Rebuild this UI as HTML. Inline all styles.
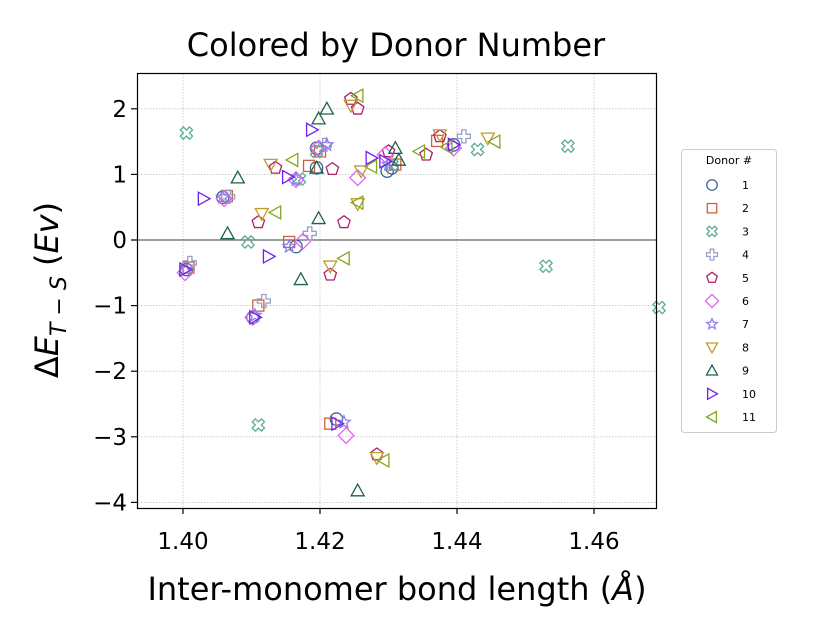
<!DOCTYPE html>
<html><head><meta charset="utf-8"><style>
html,body{margin:0;padding:0;background:#fff;}
svg{display:block;font-family:"DejaVu Sans","Liberation Sans",sans-serif;}
</style></head><body>
<svg id="chart" width="840" height="640" viewBox="0 0 840 640">
<text x="396" y="56" font-size="32" text-anchor="middle">Colored by Donor Number</text>
<g id="grid"></g>
<g id="axes"></g>
<g id="marks"></g>
<rect x="137.5" y="73.5" width="519" height="435" fill="none" stroke="#000" stroke-width="1.2"/>
<text x="397" y="600" font-size="32" text-anchor="middle">Inter-monomer bond length (<tspan font-style="italic">Å</tspan>)</text>
<text transform="translate(58,290) rotate(-90)" font-size="32" text-anchor="middle">Δ<tspan font-style="italic">E</tspan><tspan font-size="22" dy="8" font-style="italic">T − S</tspan><tspan dy="-8"> (</tspan><tspan font-style="italic">Ev</tspan>)</text>
<g id="legend">
<rect x="681.5" y="149.5" width="95" height="283" rx="3" fill="#fff" stroke="#ccc" stroke-width="1"/>
<text x="729" y="164" font-size="11" text-anchor="middle">Donor #</text>
</g>
</svg>
<script>
const xTicks = [1.40, 1.42, 1.44, 1.46];
const xTickLabels = ["1.40", "1.42", "1.44", "1.46"];
const yTicks = [2, 1, 0, -1, -2, -3, -4];
const yTickLabels = ["2", "1", "0", "−1", "−2", "−3", "−4"];
const seriesNames = ["1","2","3","4","5","6","7","8","9","10","11"];
const seriesColors = ["#3a6596","#d0603c","#5aae8a","#98a0c8","#b01f6a","#e064f2","#8a80f0","#c49a30","#1c6446","#7020f0","#80a822"];
const seriesMarkers = ["circle","square","x","plus","pentagon","diamond","star","down","up","right","left"];
const d1 = [[1.4005,-0.45],[1.4102,-1.18],[1.4224,-2.73],[1.4165,-0.1],[1.4195,1.4],[1.4058,0.65],[1.4298,1.05],[1.4195,1.1],[1.4395,1.45],[1.4305,1.1]];
const d2 = [[1.4008,-0.42],[1.411,-1.0],[1.4215,-2.8],[1.4155,-0.03],[1.42,1.35],[1.4064,0.67],[1.431,1.15],[1.4184,1.13],[1.4371,1.51]];
const d3 = [[1.4005,1.63],[1.4095,-0.03],[1.411,-2.82],[1.453,-0.4],[1.4562,1.43],[1.443,1.38],[1.417,0.93],[1.4195,1.35],[1.4305,1.15],[1.4695,-1.03]];
const d4 = [[1.401,-0.35],[1.4118,-0.93],[1.4185,0.1],[1.4207,1.45],[1.441,1.58],[1.4066,0.66]];
const d5 = [[1.4283,-3.27],[1.4215,-0.53],[1.4235,0.27],[1.411,0.27],[1.4135,1.1],[1.4218,1.08],[1.4255,2.0],[1.4355,1.3],[1.4375,1.58],[1.43,1.35],[1.4245,2.15]];
const d6 = [[1.4003,-0.5],[1.4102,-1.18],[1.4238,-2.98],[1.4175,-0.02],[1.4198,1.4],[1.406,0.63],[1.4165,0.92],[1.4295,1.3],[1.4395,1.4],[1.4255,0.95]];
const d7 = [[1.4005,-0.45],[1.4105,-1.15],[1.4235,-2.78],[1.4155,-0.1],[1.421,1.45],[1.4058,0.65],[1.4165,0.92],[1.43,1.15]];
const d8 = [[1.4283,-3.32],[1.4215,-0.4],[1.4255,0.55],[1.4115,0.4],[1.4128,1.15],[1.4245,2.05],[1.4375,1.6],[1.4445,1.55],[1.426,1.05]];
const d9 = [[1.4255,-3.82],[1.4172,-0.6],[1.4198,0.33],[1.4065,0.1],[1.408,0.95],[1.4195,1.1],[1.421,2.0],[1.4198,1.85],[1.431,1.4],[1.4315,1.22]];
const d10 = [[1.4003,-0.45],[1.4105,-1.18],[1.4225,-2.8],[1.4125,-0.25],[1.403,0.63],[1.4153,0.96],[1.4188,1.68],[1.4295,1.2],[1.4275,1.25],[1.4395,1.45]];
const d11 = [[1.4293,-3.36],[1.4235,-0.28],[1.4255,0.57],[1.4135,0.42],[1.416,1.22],[1.4255,2.2],[1.4275,1.12],[1.4345,1.35],[1.4455,1.5],[1.4385,1.42]];
const allSeries = [d1,d2,d3,d4,d5,d6,d7,d8,d9,d10,d11];

const NS = "http://www.w3.org/2000/svg";
function X(v){ return 183 + (v - 1.40) * 6850; }
function Y(v){ return 240 - v * 65.6; }
function mk(tag, attrs, parent){ const e = document.createElementNS(NS, tag); for (const k in attrs) e.setAttribute(k, attrs[k]); parent.appendChild(e); return e; }
const grid = document.getElementById('grid'), axes = document.getElementById('axes'), marks = document.getElementById('marks'), legend = document.getElementById('legend');

xTicks.forEach((t,i)=>{
  const x = X(t);
  const g = mk('line',{x1:x,x2:x,y1:74,y2:508,stroke:'#b0b0b0','stroke-width':0.6,'stroke-dasharray':'1.5,1.5'},grid);
  
  
  mk('line',{x1:x,x2:x,y1:508,y2:514,stroke:'#000','stroke-width':1.2},axes);
  const tx = mk('text',{x:x,y:549,'font-size':23,'text-anchor':'middle'},axes);
  tx.textContent = xTickLabels[i];
  
  
});
yTicks.forEach((t,i)=>{
  const y = Y(t);
  const g = mk('line',{x1:138,x2:656,y1:y,y2:y,stroke:'#b0b0b0','stroke-width':0.6,'stroke-dasharray':'1.5,1.5'},grid);
  
  
  mk('line',{x1:131,x2:137,y1:y,y2:y,stroke:'#000','stroke-width':1.2},axes);
  const tx = mk('text',{x:127,y:y+8,'font-size':23,'text-anchor':'end'},axes);
  tx.textContent = yTickLabels[i];
  
  
});
const zl = mk('line',{x1:138,x2:656,y1:Y(0),y2:Y(0),stroke:'#000','stroke-width':0.8},axes);



function marker(type, cx, cy, s, color, parent){
  const st = {fill:'none',stroke:color,'stroke-width':1.3};
  const r = s/2;
  let e;
  function poly(pts){ return mk('polygon',Object.assign({points:pts.map(p=>(cx+p[0])+','+(cy+p[1])).join(' ')},st),parent); }
  if (type==='circle') e = mk('circle',Object.assign({cx:cx,cy:cy,r:r*0.95},st),parent);
  else if (type==='square') e = mk('rect',Object.assign({x:cx-r*0.85,y:cy-r*0.85,width:r*1.7,height:r*1.7},st),parent);
  else if (type==='diamond') e = poly([[0,-r*1.2],[r*1.2,0],[0,r*1.2],[-r*1.2,0]]);
  else if (type==='up') e = poly([[0,-r],[r,r*0.8],[-r,r*0.8]]);
  else if (type==='down') e = poly([[0,r],[r,-r*0.8],[-r,-r*0.8]]);
  else if (type==='right') e = poly([[r,0],[-r*0.8,r],[-r*0.8,-r]]);
  else if (type==='left') e = poly([[-r,0],[r*0.8,r],[r*0.8,-r]]);
  else if (type==='pentagon'){ const p=[]; for(let k=0;k<5;k++){const a=-Math.PI/2+k*2*Math.PI/5;p.push([r*Math.cos(a),r*Math.sin(a)]);} e=poly(p); }
  else if (type==='star'){ const p=[]; for(let k=0;k<10;k++){const a=-Math.PI/2+k*Math.PI/5;const rr=k%2?r*0.45:r;p.push([rr*Math.cos(a),rr*Math.sin(a)]);} e=poly(p); }
  else if (type==='plus'){ const a=r*0.33; e=poly([[-a,-r],[a,-r],[a,-a],[r,-a],[r,a],[a,a],[a,r],[-a,r],[-a,a],[-r,a],[-r,-a],[-a,-a]]); }
  else if (type==='x'){ const a=r*0.33, b=r; const p=[[-a,-b],[a,-b],[a,-a],[b,-a],[b,a],[a,a],[a,b],[-a,b],[-a,a],[-b,a],[-b,-a],[-a,-a]];
    e = poly(p); e.setAttribute('transform','rotate(45 '+cx+' '+cy+')'); }
  return e;
}

allSeries.forEach((data,si)=>{
  const g = mk('g',{},marks);
  
  
  data.forEach(p=>{
    const m = marker(seriesMarkers[si], X(p[0]), Y(p[1]), 13, seriesColors[si], g);
    
    
  });
  const ly = 185 + si*23.2;
  const lg = mk('g',{},legend);
  
  
  marker(seriesMarkers[si], 712, ly, 11, seriesColors[si], lg);
  const t = mk('text',{x:742,y:ly+4,'font-size':11},lg);
  t.textContent = seriesNames[si];
});
</script>
</body></html>
